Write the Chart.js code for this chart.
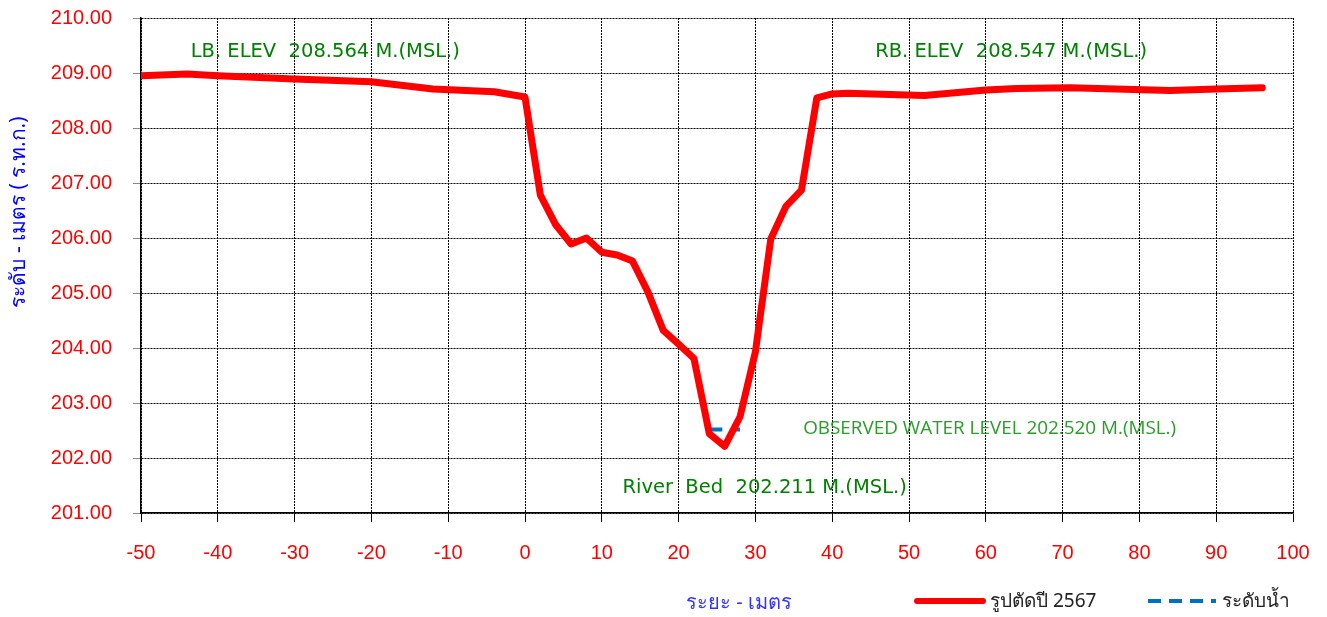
<!DOCTYPE html>
<html>
<head>
<meta charset="utf-8">
<title>River cross section</title>
<script src="https://cdn.jsdelivr.net/npm/chart.js@4.4.1/dist/chart.umd.min.js"></script>
<style>
    html, body { margin: 0; padding: 0; background: #fff; }
    canvas { display: block; }
</style>
</head>
<body>
<canvas id="sectionChart" width="1327" height="617"></canvas>
<script>
// cross section survey (distance in m, elevation in m MSL)
const distances = [-50, -44, -40, -30, -20, -12, -4, 0, 2, 4, 6, 8, 10, 12, 14, 16, 18, 20, 22, 24, 26, 28, 30, 32, 34, 36, 38, 40, 42, 52, 60, 64, 71, 84, 90, 96];
const elevations = [208.95, 208.98, 208.95, 208.89, 208.84, 208.71, 208.66, 208.564, 206.78, 206.24, 205.89, 206.00, 205.74, 205.69, 205.58, 205.02, 204.32, 204.07, 203.81, 202.44, 202.211, 202.75, 203.93, 205.98, 206.58, 206.87, 208.547, 208.62, 208.63, 208.59, 208.69, 208.72, 208.73, 208.68, 208.71, 208.73];

const waterDistances = [24, 28];
const waterLevels = [202.52, 202.52];

const xTicks = [-50, -40, -30, -20, -10, 0, 10, 20, 30, 40, 50, 60, 70, 80, 90, 100];
const yTicks = [201, 202, 203, 204, 205, 206, 207, 208, 209, 210];

const seriesNames = ["รูปตัดปี 2567", "ระดับน้ำ"];

const notes = [
    { text: "LB. ELEV  208.564 M.(MSL.)", x: -26, y: 209.38, color: "#008000", font: "19.5px 'DejaVu Sans'" },
    { text: "RB. ELEV  208.547 M.(MSL.)", x: 63.3, y: 209.38, color: "#008000", font: "19.5px 'DejaVu Sans'" },
    { text: "OBSERVED WATER LEVEL 202.520 M.(MSL.)", x: 60.5, y: 202.53, color: "#2a9c2a", font: "19px 'Open Sans'", maxWidth: 373 },
    { text: "River  Bed  202.211 M.(MSL.)", x: 31.2, y: 201.45, color: "#008000", font: "19.5px 'DejaVu Sans'" }
];

function toPoints(xs, ys) {
    return xs.map((x, i) => ({ x: x, y: ys[i] }));
}

const extras = {
    id: "extras",
    afterDraw(chart) {
        const ctx = chart.ctx;
        const xs = chart.scales.x;
        const ys = chart.scales.y;
        ctx.save();

        // notes on the plot
        ctx.textAlign = "center";
        ctx.textBaseline = "middle";
        notes.forEach(n => {
            ctx.font = n.font;
            ctx.fillStyle = n.color;
            if (n.maxWidth) {
                ctx.fillText(n.text, xs.getPixelForValue(n.x), ys.getPixelForValue(n.y), n.maxWidth);
            } else {
                ctx.fillText(n.text, xs.getPixelForValue(n.x), ys.getPixelForValue(n.y));
            }
        });

        // y axis title
        ctx.save();
        ctx.translate(19, 212);
        ctx.rotate(-Math.PI / 2);
        ctx.font = "21px 'Noto Sans', sans-serif";
        ctx.fillStyle = "#0000ff";
        ctx.fillText("ระดับ - เมตร ( ร.ท.ก.)", 0, 0);
        ctx.restore();

        // x axis title
        ctx.font = "20px 'Noto Sans', sans-serif";
        ctx.fillStyle = "#3333ff";
        ctx.fillText("ระยะ - เมตร", 739, 603);

        // legend
        const ds = chart.data.datasets;
        ctx.lineCap = "round";
        ctx.strokeStyle = ds[0].borderColor;
        ctx.lineWidth = 6;
        ctx.beginPath();
        ctx.moveTo(917, 601);
        ctx.lineTo(983, 601);
        ctx.stroke();

        ctx.strokeStyle = ds[1].borderColor;
        ctx.lineWidth = 4;
        ctx.lineCap = "butt";
        ctx.setLineDash([13, 8]);
        ctx.beginPath();
        ctx.moveTo(1148, 601);
        ctx.lineTo(1216, 601);
        ctx.stroke();
        ctx.setLineDash([]);

        ctx.textAlign = "left";
        ctx.font = "19px 'Noto Sans', sans-serif";
        ctx.fillStyle = "#222";
        ctx.fillText(seriesNames[0], 990, 602);
        ctx.fillText(seriesNames[1], 1222, 602);

        ctx.restore();
    }
};

document.addEventListener("DOMContentLoaded", function() {
    const ctx = document.getElementById("sectionChart").getContext("2d");
    new Chart(ctx, {
        type: "line",
        data: {
            datasets: [{
                label: seriesNames[0],
                data: toPoints(distances, elevations),
                borderColor: "#ff0000",
                borderWidth: 7,
                borderJoinStyle: "round",
                borderCapStyle: "round",
                pointRadius: 0,
                fill: false,
                tension: 0
            }, {
                label: seriesNames[1],
                data: toPoints(waterDistances, waterLevels),
                borderColor: "#0070c0",
                borderWidth: 4,
                borderDash: [13, 9],
                pointRadius: 0,
                fill: false
            }]
        },
        options: {
            responsive: false,
            animation: false,
            devicePixelRatio: 1,
            layout: { padding: { top: 18, right: 34, left: 0, bottom: 0 } },
            plugins: {
                legend: { display: false },
                tooltip: { enabled: false }
            },
            scales: {
                x: {
                    type: "linear",
                    min: xTicks[0],
                    max: xTicks[xTicks.length - 1],
                    afterBuildTicks: s => { s.ticks = xTicks.map(v => ({ value: v })); },
                    afterFit: s => { s.height = 104; s.paddingLeft = 0; s.paddingRight = 0; },
                    ticks: {
                        color: "#ff0000",
                        font: { family: "'Liberation Sans', Arial, sans-serif", size: 20 },
                        padding: 19,
                        maxRotation: 0
                    },
                    grid: { color: "#000", lineWidth: 1, tickLength: 9, tickColor: "#000" },
                    border: { display: true, color: "#000", width: 1.5, dash: [2, 1] }
                },
                y: {
                    min: yTicks[0],
                    max: yTicks[yTicks.length - 1],
                    afterBuildTicks: s => { s.ticks = yTicks.map(v => ({ value: v })); },
                    afterFit: s => { s.width = 141; s.paddingTop = 0; s.paddingBottom = 0; },
                    ticks: {
                        color: "#ff0000",
                        font: { family: "'Liberation Sans', Arial, sans-serif", size: 20 },
                        padding: 21,
                        callback: v => v.toFixed(2)
                    },
                    grid: { color: "#000", lineWidth: 1, tickLength: 8, tickColor: "#888" },
                    border: { display: true, color: "#000", width: 1.5, dash: [2, 1] }
                }
            }
        },
        plugins: [extras]
    });
});
</script>
</body>
</html>
